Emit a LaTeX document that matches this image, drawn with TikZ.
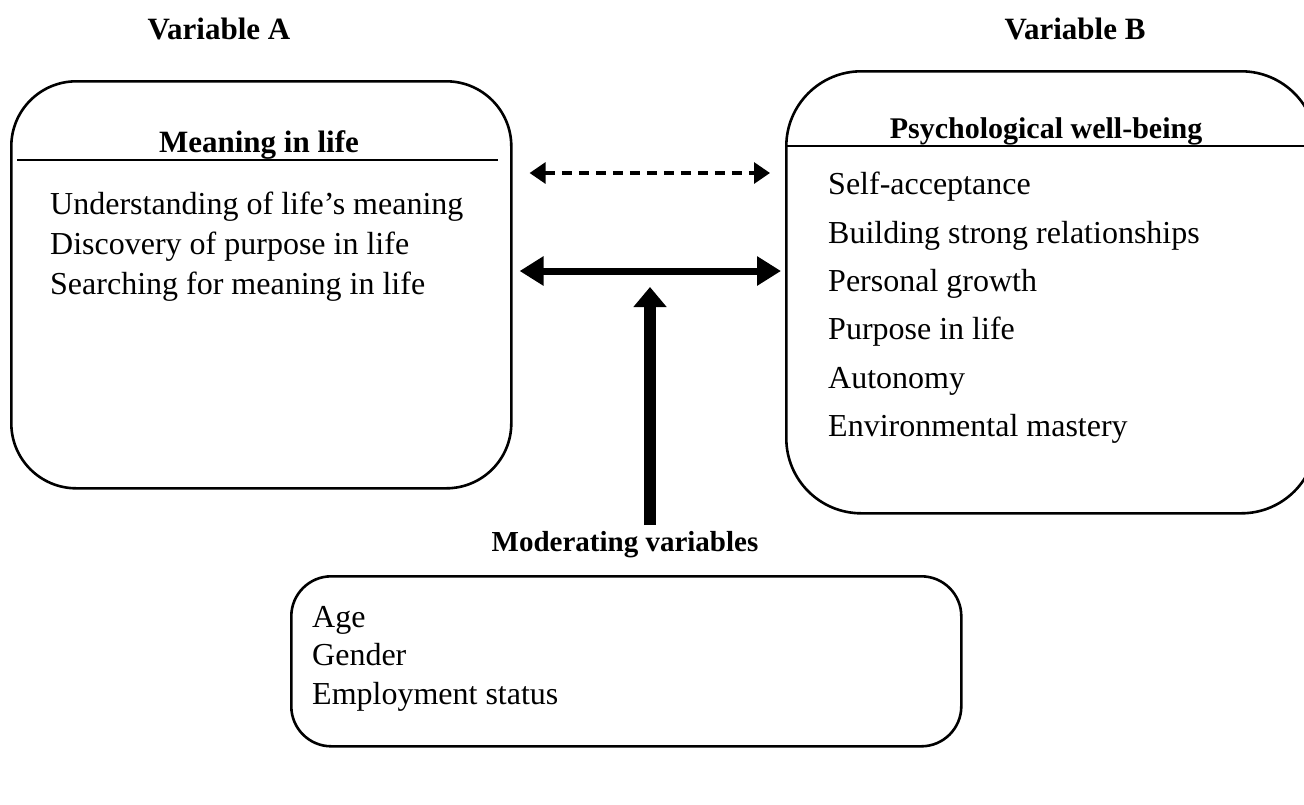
\documentclass[tikz,border=0pt]{standalone}
\usepackage{fontspec}
\setmainfont{Liberation Serif}
\usetikzlibrary{arrows.meta}
\begin{document}
\begin{tikzpicture}[x=1pt,y=-1pt,
  frame/.style={draw, line width=2.6pt, rounded corners=#1, inner sep=0pt},
  title/.style={font=\fontsize{31}{36}\selectfont\bfseries, inner sep=0pt, text height=0.7em, text depth=0.2em},
  item/.style={font=\fontsize{32}{38}\selectfont, inner sep=0pt, anchor=west, text height=0.7em, text depth=0.2em},
  rule/.style={line width=1.3pt},
  dasharrow/.style={line width=3.2pt, dash pattern=on 10pt off 7pt, {Triangle[length=16pt,width=21pt]}-{Triangle[length=16pt,width=21pt]}},
  thickarrow/.style={line width=7pt, {Triangle[length=24pt,width=28pt]}-{Triangle[length=24pt,width=28pt]}},
  modarrow/.style={line width=12pt, -{Triangle[length=20pt,width=32pt]}}
]
\useasboundingbox (0,0) rectangle (1304,804);

% titles
\node[title] (tA) at (219,37) {Variable A};
\node[title] (tB) at (1075,37) {Variable B};

% left box
\node[frame=65pt, minimum width=500pt, minimum height=407pt, anchor=north west] (A) at (10,80) {};
\node[title] (hA) at (259,150) {Meaning in life};
\draw[rule] (17,160) coordinate (lA1) -- (498,160) coordinate (lA2);
\node[item] (a1) at (50,212) {Understanding of life’s meaning};
\node[item] (a2) at (50,252) {Discovery of purpose in life};
\node[item] (a3) at (50,292) {Searching for meaning in life};

% right box
\node[frame=75pt, minimum width=530pt, minimum height=442pt, anchor=north west] (B) at (785,70) {};
\node[title, font=\fontsize{30}{36}\selectfont\bfseries] (hB) at (1046,136) {Psychological well-being};
\draw[rule] (785,146) coordinate (lB1) -- (1304,146) coordinate (lB2);
\node[item] (b1) at (828,192) {Self-acceptance};
\node[item] (b2) at (828,241) {Building strong relationships};
\node[item] (b3) at (828,289) {Personal growth};
\node[item] (b4) at (828,337) {Purpose in life};
\node[item] (b5) at (828,386) {Autonomy};
\node[item] (b6) at (828,434) {Environmental mastery};

% moderating
\node[title, font=\fontsize{29}{34}\selectfont\bfseries] (hM) at (625,549) {Moderating variables};
\node[frame=40pt, minimum width=670pt, minimum height=170pt, anchor=north west] (M) at (290,575) {};
\node[item] (m1) at (312,625) {Age};
\node[item] (m2) at (312,663) {Gender};
\node[item] (m3) at (312,702) {Employment status};

% arrows
\coordinate (d1) at (A.east |- 0,173);
\coordinate (d2) at (B.west |- 0,173);
\draw[dasharrow] ([xshift=17pt]d1) -- ([xshift=-15pt]d2);
\coordinate (s1) at (A.east |- 0,271);
\coordinate (s2) at (B.west |- 0,271);
\draw[thickarrow] ([xshift=7pt]s1) -- ([xshift=-4pt]s2);
\coordinate (jtip) at (650,287);
\coordinate (mtop) at (650,525);
\draw[modarrow] (mtop) -- (jtip);
\end{tikzpicture}
\end{document}
